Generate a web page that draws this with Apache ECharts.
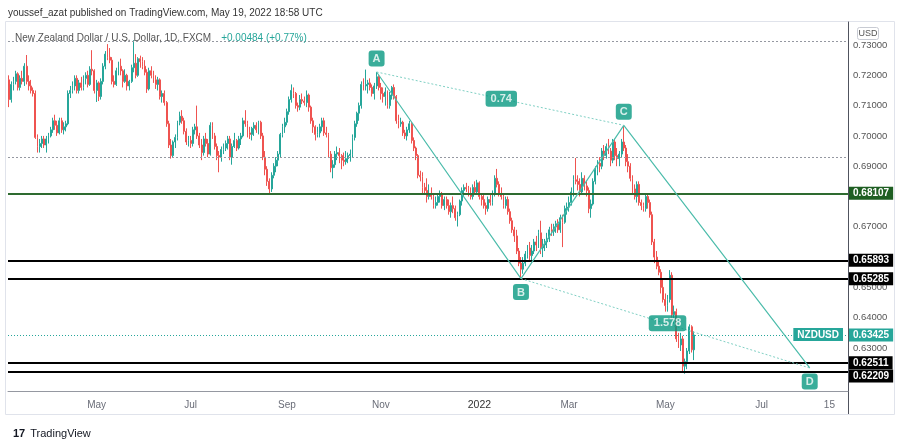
<!DOCTYPE html>
<html><head><meta charset="utf-8">
<script src="https://cdn.jsdelivr.net/npm/echarts@6/dist/echarts.min.js"></script>
<style>html,body{margin:0;padding:0;background:#fff}#c{width:900px;height:445px}</style>
</head><body><div id="c"></div>
<script>
// ---------- DATA ----------
const START_DATE = [2021, 2, 8];   // first daily bar: 2021-03-08
const TOTAL_BARS = 384;            // trading-day slots shown on the time axis (incl. future space)
// daily candles, in pips (price x 10000): [open, high, low, close]
const ohlc = [
[7185,7200,7095,7120],[7120,7180,7110,7170],[7170,7195,7150,7180],[7180,7215,7170,7205],[7205,7210,7150,7160],
[7160,7200,7150,7190],[7190,7215,7170,7180],[7180,7240,7165,7230],[7230,7267,7170,7180],[7180,7200,7150,7165],
[7165,7185,7140,7150],[7150,7160,7130,7140],[7140,7150,6990,6995],[6995,7005,6945,6965],[6965,6990,6945,6975],
[6975,7000,6960,6990],[6990,7000,6960,6970],[6970,7000,6945,6990],[6990,7010,6975,7000],[7000,7030,6995,7020],
[7020,7060,7010,7050],[7050,7070,7020,7035],[7035,7050,7000,7010],[7010,7060,7005,7050],[7050,7060,7010,7020],
[7020,7045,7005,7030],[7030,7050,7015,7040],[7040,7150,7035,7140],[7140,7165,7125,7150],[7150,7180,7140,7165],
[7165,7200,7150,7190],[7190,7200,7140,7150],[7150,7185,7140,7175],[7175,7195,7150,7160],[7160,7200,7150,7190],
[7190,7210,7170,7200],[7200,7215,7160,7170],[7170,7230,7165,7220],[7220,7283,7200,7215],[7215,7220,7140,7150],
[7150,7185,7112,7175],[7175,7180,7115,7130],[7130,7190,7120,7180],[7180,7240,7170,7230],[7230,7280,7220,7270],
[7270,7303,7250,7260],[7260,7290,7240,7250],[7250,7260,7170,7180],[7180,7200,7160,7170],[7170,7225,7165,7215],
[7215,7245,7200,7230],[7230,7255,7200,7215],[7215,7220,7160,7180],[7180,7220,7175,7200],[7200,7205,7150,7165],
[7165,7185,7150,7180],[7180,7235,7175,7225],[7225,7316,7210,7240],[7240,7270,7190,7200],[7200,7260,7195,7255],
[7255,7265,7225,7245],[7245,7260,7220,7230],[7230,7250,7200,7210],[7210,7220,7142,7155],[7155,7225,7150,7215],
[7215,7230,7190,7200],[7200,7215,7175,7185],[7185,7200,7155,7170],[7170,7195,7150,7185],[7185,7190,7120,7130],
[7130,7150,7110,7140],[7140,7150,7100,7110],[7110,7115,7030,7040],[7040,7050,6960,6970],[6970,6990,6925,6935],
[6935,6985,6930,6980],[6980,7005,6960,6995],[6995,7050,6985,7045],[7045,7080,7035,7065],[7065,7085,7040,7050],
[7050,7060,7005,7015],[7015,7025,6970,6980],[6980,7000,6965,6985],[6985,7000,6960,6975],[6975,7030,6965,7020],
[7020,7040,7005,7030],[7030,7100,6990,7000],[7000,7010,6960,6970],[6970,6990,6920,6945],[6945,7000,6935,6990],
[6990,7010,6965,6975],[6975,6990,6930,6940],[6940,7045,6935,7035],[7035,7045,6990,7000],[7000,7010,6955,6965],
[6965,6975,6920,6935],[6935,6950,6880,6930],[6930,6965,6915,6955],[6955,6975,6940,6960],[6960,6985,6950,6975],
[6975,7000,6955,6990],[6990,7000,6920,6930],[6930,6975,6905,6965],[6965,7010,6960,6985],[6985,6990,6950,6960],
[6960,7000,6955,6990],[6990,7010,6970,7000],[7000,7060,6995,7050],[7050,7085,7030,7040],[7040,7050,6995,7010],
[7010,7030,6990,7005],[7005,7030,6985,7025],[7025,7045,7000,7035],[7035,7045,7010,7020],[7020,7050,7005,7045],
[7045,7050,6990,7000],[7000,7010,6920,6930],[6930,6950,6870,6890],[6890,6900,6835,6850],[6850,6860,6808,6825],
[6825,6880,6815,6870],[6870,6910,6860,6900],[6900,6930,6880,6920],[6920,6950,6900,6940],[6940,7010,6930,7005],
[7005,7040,6995,7030],[7030,7060,7010,7045],[7045,7090,7035,7080],[7080,7130,7070,7120],[7120,7170,7110,7150],
[7150,7160,7125,7140],[7140,7145,7090,7100],[7100,7110,7080,7095],[7095,7135,7085,7120],[7120,7140,7105,7115],
[7115,7130,7100,7110],[7110,7150,7095,7135],[7135,7140,7080,7095],[7095,7100,7040,7050],[7050,7060,7010,7030],
[7030,7035,6985,7005],[7005,7030,6995,7010],[7010,7040,6995,7030],[7030,7060,7015,7050],[7050,7060,7000,7010],
[7010,7030,6995,7005],[7005,7010,6930,6940],[6940,6950,6880,6895],[6895,6920,6860,6905],[6905,6950,6895,6940],
[6940,6965,6920,6945],[6945,6960,6910,6935],[6935,6940,6890,6920],[6920,6945,6900,6915],[6915,6950,6905,6925],
[6925,6945,6910,6935],[6935,6955,6915,6940],[6940,7005,6930,6995],[6995,7050,6985,7040],[7040,7080,7030,7075],
[7075,7110,7050,7100],[7100,7180,7090,7170],[7170,7190,7150,7165],[7165,7219,7150,7170],[7170,7185,7140,7175],
[7175,7190,7150,7160],[7160,7170,7130,7140],[7140,7175,7120,7165],[7165,7211,7155,7195],[7195,7200,7150,7160],
[7160,7175,7120,7140],[7140,7160,7110,7130],[7130,7160,7100,7145],[7145,7150,7090,7100],[7100,7145,7090,7135],
[7135,7165,7120,7160],[7160,7170,7120,7130],[7130,7135,7040,7050],[7050,7070,7025,7040],[7040,7060,7030,7045],
[7045,7050,7000,7010],[7010,7020,6990,7000],[7000,7030,6985,7020],[7020,7050,7010,7040],[7040,7045,6975,6985],
[6985,6995,6950,6960],[6960,6965,6920,6935],[6935,6940,6860,6870],[6870,6885,6850,6865],[6865,6880,6810,6830],
[6830,6845,6805,6820],[6820,6860,6780,6800],[6800,6840,6790,6810],[6810,6830,6790,6800],[6800,6810,6760,6770],
[6770,6800,6760,6780],[6780,6810,6770,6800],[6800,6820,6780,6810],[6810,6815,6760,6770],[6770,6800,6755,6790],
[6790,6800,6760,6770],[6770,6790,6740,6750],[6750,6780,6730,6770],[6770,6800,6745,6760],[6760,6770,6720,6730],
[6730,6750,6701,6740],[6740,6790,6735,6785],[6785,6830,6770,6820],[6820,6840,6800,6830],[6830,6845,6815,6825],
[6825,6835,6800,6810],[6810,6830,6790,6800],[6800,6840,6790,6830],[6830,6850,6810,6815],[6815,6855,6810,6845],
[6845,6850,6790,6800],[6800,6810,6770,6790],[6790,6810,6760,6770],[6770,6780,6740,6760],[6760,6800,6750,6790],
[6790,6810,6770,6780],[6780,6820,6770,6810],[6810,6870,6800,6860],[6860,6891,6830,6840],[6840,6850,6800,6810],
[6810,6830,6790,6800],[6800,6810,6760,6770],[6770,6800,6760,6790],[6790,6800,6740,6750],[6750,6760,6710,6720],
[6720,6730,6680,6690],[6690,6700,6650,6670],[6670,6690,6610,6620],[6620,6630,6570,6580],[6580,6600,6529,6560],
[6560,6600,6545,6580],[6580,6620,6570,6610],[6610,6640,6595,6630],[6630,6650,6590,6605],[6605,6640,6590,6620],
[6620,6660,6610,6650],[6650,6670,6620,6640],[6640,6690,6630,6680],[6680,6720,6610,6630],[6630,6660,6600,6640],
[6640,6660,6620,6650],[6650,6680,6630,6660],[6660,6700,6650,6690],[6690,6710,6670,6685],[6685,6710,6670,6700],
[6700,6720,6680,6710],[6710,6725,6680,6690],[6690,6740,6680,6730],[6730,6740,6633,6715],[6715,6770,6710,6760],
[6760,6780,6740,6765],[6765,6800,6750,6780],[6780,6830,6770,6815],[6815,6870,6800,6855],[6855,6927,6840,6850],
[6850,6870,6820,6840],[6840,6860,6800,6815],[6815,6880,6810,6860],[6860,6870,6820,6835],[6835,6850,6800,6820],
[6820,6830,6745,6760],[6760,6790,6730,6775],[6775,6860,6770,6850],[6850,6900,6840,6890],[6890,6920,6870,6910],
[6910,6930,6880,6900],[6900,6960,6890,6950],[6950,6970,6920,6935],[6935,6975,6925,6965],[6965,6990,6940,6950],
[6950,6960,6900,6920],[6920,6990,6910,6980],[6980,6990,6920,6935],[6935,6960,6900,6925],[6925,6950,6900,6940],
[6940,6990,6930,6980],[6980,7035,6950,6960],[6960,6970,6900,6915],[6915,6940,6880,6900],[6900,6910,6850,6860],
[6860,6870,6810,6825],[6825,6840,6790,6800],[6800,6850,6780,6840],[6840,6850,6770,6780],[6780,6790,6755,6770],
[6770,6780,6750,6760],[6760,6810,6750,6800],[6800,6810,6760,6780],[6780,6790,6730,6740],[6740,6750,6640,6650],
[6650,6660,6580,6600],[6600,6620,6560,6570],[6570,6590,6540,6550],[6550,6560,6480,6500],[6500,6530,6450,6460],
[6460,6480,6420,6440],[6440,6475,6420,6460],[6460,6557,6450,6540],[6540,6550,6400,6410],[6410,6440,6380,6420],
[6420,6430,6320,6330],[6330,6350,6300,6310],[6310,6350,6290,6330],[6330,6340,6222,6240],[6240,6265,6215,6255],
[6255,6300,6230,6290],[6290,6378,6280,6370],[6370,6375,6285,6294],[6294,6355,6260,6343]
];
const tickDates = ['2021-05-03','2021-07-01','2021-09-01','2021-11-01','2022-01-03','2022-03-01','2022-05-02','2022-07-01','2022-08-15'];
const tickTexts = ['May','Jul','Sep','Nov','2022','Mar','May','Jul','15'];
const priceMin = 0.6158, priceMax = 0.7376;
const greenLevel = 0.68107;
const blackLevels = [0.65893, 0.65285, 0.62511, 0.62209];
const rayLevels = [0.7314, 0.6931];
const lastPrice = 0.63425;
const symbolName = 'NZDUSD';
const patternNames = ['A','B','C','D'];
const patternIdx = [168, 234, 281, 366];
const patternPrices = [0.7211, 0.6529, 0.7035, 0.6234];
const ratioTexts = ['0.74', '1.578'];

// ---------- BUILD ----------
const dates = [];
{
  let t = Date.UTC(START_DATE[0], START_DATE[1], START_DATE[2]);
  while (dates.length < TOTAL_BARS) {
    const d = new Date(t); const wd = d.getUTCDay();
    if (wd !== 0 && wd !== 6) dates.push(d.toISOString().slice(0, 10));
    t += 86400000;
  }
}
const candleData = ohlc.map(r => [r[0]/1e4, r[3]/1e4, r[2]/1e4, r[1]/1e4]);
const FONT = 'Liberation Sans';
const TEAL = '#26a69a', DARKTEAL = '#089981';

function priceBox(bg, offY) {
  return { show: true, position: 'end', distance: 1, formatter: p => Number(p.value).toFixed(5),
    backgroundColor: bg, color: '#fff', fontSize: 10, fontWeight: 'bold', fontFamily: FONT,
    padding: [2, 4, 1, 4], offset: [0, offY || 0] };
}
const markData = [];
rayLevels.forEach(v => markData.push({ yAxis: v, lineStyle: { color: '#9598a1', type: [2, 2], width: 1 }, label: { show: false } }));
markData.push({ yAxis: lastPrice, lineStyle: { color: TEAL, type: [1, 2], width: 1 }, label: priceBox(TEAL) });
markData.push({ yAxis: lastPrice, lineStyle: { color: 'rgba(0,0,0,0)', width: 0, opacity: 1 },
  label: { show: true, position: 'insideEndTop', distance: 5, offset: [0, 11], opacity: 1,
  formatter: symbolName, backgroundColor: TEAL, color: '#fff', fontSize: 10, fontWeight: 'bold', fontFamily: FONT, padding: [2, 4, 1, 4] } });
markData.push({ yAxis: greenLevel, lineStyle: { color: '#2e6b30', width: 2, type: 'solid' }, label: priceBox('#1e5e22') });
blackLevels.forEach((v, i) => markData.push({ yAxis: v, lineStyle: { color: '#000', width: 2, type: 'solid' },
  label: priceBox('#000', i === blackLevels.length - 1 ? 4 : 0) }));

const pts = patternIdx.map((x, i) => [x, patternPrices[i]]);
const mid = (a, b) => [Math.round((pts[a][0] + pts[b][0]) / 2 + 0.5), (pts[a][1] + pts[b][1]) / 2];

const option = {
  animation: false,
  textStyle: { fontFamily: FONT },
  title: [
    { text: 'youssef_azat published on TradingView.com, May 19, 2022 18:58 UTC', left: 8, top: 8, padding: 0,
      textStyle: { fontSize: 10, color: '#333', fontWeight: 'normal', fontFamily: FONT } },
    { text: '{a|New Zealand Dollar / U.S. Dollar, 1D, FXCM}  {b|+0.00484 (+0.77%)}', left: 15, top: 29, padding: 0,
      textStyle: { fontWeight: 'normal', rich: { a: { fontSize: 10, fontWeight: 'normal', color: '#555', fontFamily: FONT },
                                                  b: { fontSize: 10, fontWeight: 'normal', color: TEAL, fontFamily: FONT } } } },
    { text: '{l|17} {t|TradingView}', left: 13, top: 425, padding: 0,
      textStyle: { fontWeight: 'normal', rich: { l: { fontSize: 11, fontWeight: 'bold', color: '#131722', fontFamily: FONT },
                                                  t: { fontSize: 11, fontWeight: 'normal', color: '#131722', fontFamily: FONT } } } }
  ],
  grid: { left: 8, right: 52, top: 22, bottom: 54 },
  xAxis: {
    type: 'category', data: dates, boundaryGap: true,
    axisLine: { lineStyle: { color: '#9598a1' } }, axisTick: { show: false }, splitLine: { show: false },
    axisLabel: {
      interval: (i, v) => tickDates.indexOf(v) >= 0,
      formatter: v => { const k = tickDates.indexOf(v); if (k < 0) return ''; return tickTexts[k] === '2022' ? '{y|2022}' : tickTexts[k]; },
      color: '#6a6d78', fontSize: 10, margin: 9, fontFamily: FONT,
      rich: { y: { color: '#333', fontSize: 10.5, fontFamily: FONT } }
    }
  },
  yAxis: {
    type: 'value', position: 'right', min: priceMin, max: priceMax, interval: 0.0002,
    axisLine: { show: true, lineStyle: { color: '#50535e' } }, axisTick: { show: false }, splitLine: { show: false },
    axisLabel: { color: '#555', fontSize: 9.5, margin: 5, fontFamily: FONT,
      formatter: v => { const c = Math.round(v * 100); return Math.abs(v * 100 - c) < 1e-4 ? (c / 100).toFixed(5) : ''; } }
  },
  series: [
    { type: 'candlestick', data: candleData, barWidth: 1.4, silent: true,
      itemStyle: { color: '#26a69a', color0: '#ef5350', borderColor: '#26a69a', borderColor0: '#ef5350', borderWidth: 1 },
      markLine: { silent: true, symbol: ['none', 'none'], precision: 5, animation: false, data: markData } },
    { type: 'line', data: pts, symbol: 'none', silent: true, z: 5, lineStyle: { color: '#4cbcab', width: 1.2 } },
    { type: 'line', data: [pts[0], pts[2]], symbol: 'none', silent: true, z: 5, lineStyle: { color: '#7fcfc3', width: 1, type: [2, 2] } },
    { type: 'line', data: [pts[1], pts[3]], symbol: 'none', silent: true, z: 5, lineStyle: { color: '#7fcfc3', width: 1, type: [2, 2] } },
    { type: 'scatter', silent: true, z: 6, symbolSize: 1, itemStyle: { color: 'rgba(0,0,0,0)' },
      data: pts.map((p, i) => ({ value: p, label: { position: i % 2 === 0 ? 'top' : 'bottom' } })),
      label: { show: true, distance: 5, formatter: p => patternNames[p.dataIndex], backgroundColor: DARKTEAL, color: '#fff',
        fontSize: 11, fontWeight: 'bold', fontFamily: FONT, padding: [3, 4, 2, 4], borderRadius: 3 } },
    { type: 'scatter', silent: true, z: 6, symbolSize: 1, itemStyle: { color: 'rgba(0,0,0,0)' },
      data: [mid(0, 2), mid(1, 3)],
      label: { show: true, position: 'inside', formatter: p => ratioTexts[p.dataIndex], backgroundColor: DARKTEAL, color: '#fff',
        fontSize: 11, fontWeight: 'bold', fontFamily: FONT, padding: [3, 5, 2, 5], borderRadius: 3 } }
  ],
  graphic: [
    { type: 'rect', shape: { x: 5.5, y: 21.5, width: 889, height: 393 }, style: { fill: 'none', stroke: '#e0e3eb', lineWidth: 1 }, silent: true },
    { type: 'line', shape: { x1: 848.5, y1: 391, x2: 848.5, y2: 414 }, style: { stroke: '#50535e', lineWidth: 1 }, silent: true },
    { type: 'rect', shape: { x: 857.5, y: 27.5, width: 21, height: 12, r: 2 }, style: { fill: '#fff', stroke: '#c8cbd3', lineWidth: 1 }, silent: true },
    { type: 'text', x: 868, y: 34, style: { text: 'USD', fill: '#555', fontSize: 9, fontFamily: FONT, align: 'center', verticalAlign: 'middle' }, silent: true }
  ]
};
const chart = echarts.init(document.getElementById('c'), null, { renderer: 'canvas' });
chart.setOption(option);
</script></body></html>
